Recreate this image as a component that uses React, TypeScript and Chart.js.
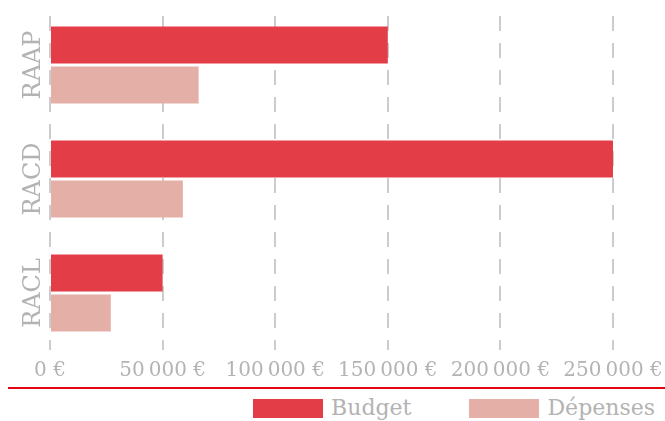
import React, { useEffect, useRef } from "react";
import { Chart, registerables } from "chart.js";

Chart.register(...registerables);

const categories = ["RAAP", "RACD", "RACL"];
const budget = [150000, 250000, 50000];
const depenses = [66000, 59000, 27000];
const seriesLabels = ["Budget", "Dépenses"];
const seriesColors = ["#e33d48", "#e3afa6"];
const xMax = 250000;
const xStep = 50000;

const FONT = "'DejaVu Serif', serif";
const GREY = "#b3b3b3";

function formatEuro(v: number): string {
  const s = String(Math.round(v)).replace(/\B(?=(\d{3})+(?!\d))/g, "\u2009");
  return s + "\u00a0€";
}

export default function App() {
  const canvasRef = useRef<HTMLCanvasElement | null>(null);

  useEffect(() => {
    if (!canvasRef.current) return;
    const chart = new Chart(canvasRef.current, {
      type: "bar",
      data: {
        labels: categories,
        datasets: [
          {
            label: seriesLabels[0],
            data: budget,
            backgroundColor: seriesColors[0],
            categoryPercentage: 0.7,
            barPercentage: 0.925,
          },
          {
            label: seriesLabels[1],
            data: depenses,
            backgroundColor: seriesColors[1],
            categoryPercentage: 0.7,
            barPercentage: 0.925,
          },
        ],
      },
      options: {
        indexAxis: "y",
        animation: false,
        responsive: false,
        maintainAspectRatio: false,
        layout: { padding: { top: 8, left: 8, right: 0, bottom: 0 } },
        plugins: {
          legend: { display: false },
          tooltip: { enabled: false },
        },
        scales: {
          x: {
            min: 0,
            max: xMax,
            afterFit: (scale: any) => {
              scale.height = 31;
              scale.paddingRight = 52;
            },
            ticks: {
              stepSize: xStep,
              color: GREY,
              font: { family: FONT, size: 20 },
              padding: 9,
              maxRotation: 0,
              callback: (v: any) => formatEuro(Number(v)),
            },
            grid: {
              color: "#cccccc",
              lineWidth: 2,
              drawTicks: false,
              borderDash: [15, 12],
              borderDashOffset: 19,
            } as any,
            border: { display: false, dash: [15, 12], dashOffset: 19 },
          },
          y: {
            afterFit: (scale: any) => {
              scale.width = 42;
            },
            ticks: {
              color: GREY,
              font: { family: FONT, size: 24 },
              minRotation: 90,
              maxRotation: 90,
              crossAlign: "center",
              padding: -20,
            },
            grid: { display: false, drawTicks: false },
            border: { display: false },
          },
        },
      },
    });
    return () => chart.destroy();
  }, []);

  return (
    <div
      style={{
        position: "fixed",
        left: 0,
        top: 0,
        width: 665,
        height: 421,
        background: "#fff",
        overflow: "hidden",
      }}
    >
      <canvas
        ref={canvasRef}
        width={665}
        height={381}
        style={{ position: "absolute", left: 0, top: 0, width: 665, height: 381 }}
      />
      <div
        style={{
          position: "absolute",
          left: 8,
          right: 0,
          top: 387,
          height: 2,
          background: "#e30613",
        }}
      />
      <div
        style={{
          position: "absolute",
          right: 10,
          top: 396,
          display: "flex",
          alignItems: "center",
          fontFamily: FONT,
          fontSize: 22,
          color: GREY,
          lineHeight: "24px",
        }}
      >
        {seriesLabels.map((lab, i) => (
          <div
            key={lab}
            style={{ display: "flex", alignItems: "center", marginLeft: i === 0 ? 0 : 58 }}
          >
            <span
              style={{
                display: "inline-block",
                width: 70,
                height: 19,
                background: seriesColors[i],
                marginRight: 8,
              }}
            />
            <span>{lab}</span>
          </div>
        ))}
      </div>
    </div>
  );
}
